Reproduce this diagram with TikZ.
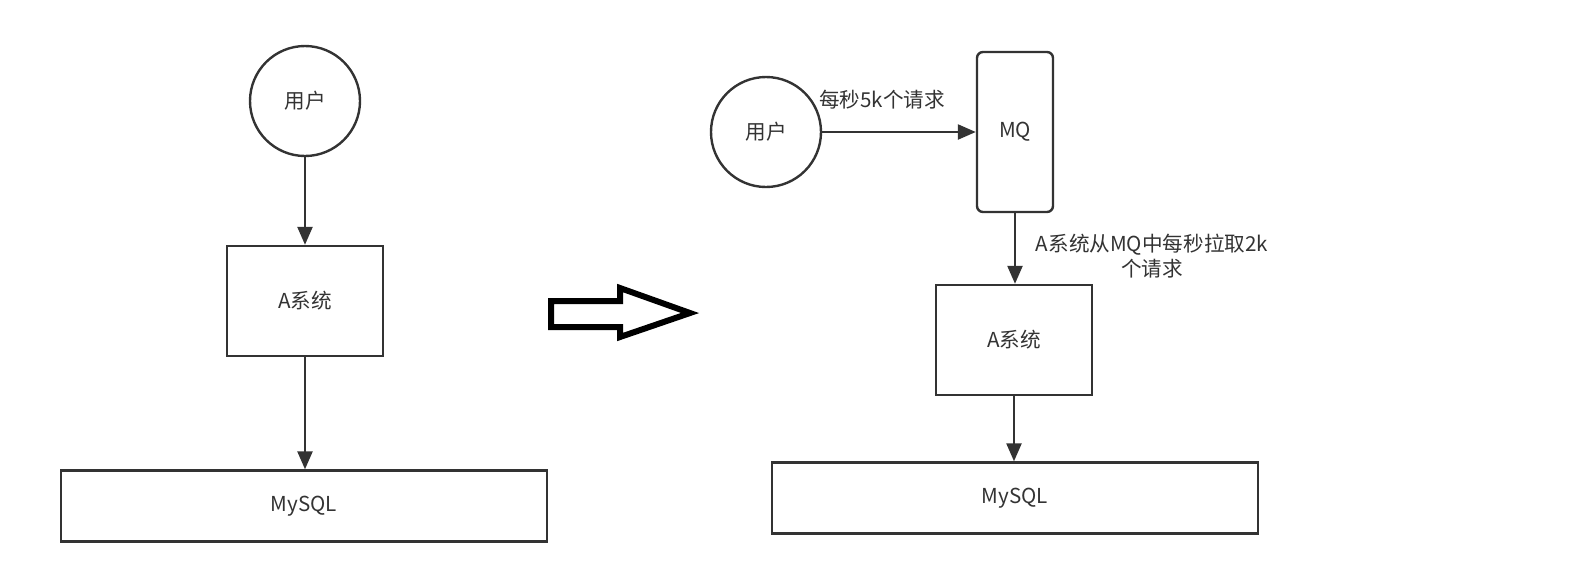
\documentclass[tikz,border=0pt]{standalone}
\usepackage{fontspec}
\setmainfont{Noto Sans CJK SC}
\usetikzlibrary{arrows.meta}
\definecolor{ink}{HTML}{333333}
\begin{document}
\begin{tikzpicture}[x=0.5pt, y=-0.5pt,
    font=\fontsize{10.3pt}{12.5pt}\selectfont, text=ink,
    every node/.style={inner sep=0pt},
    usr/.style={circle, draw=ink, line width=1.2pt, minimum size=55pt},
    sysbox/.style={rectangle, draw=ink, line width=1.2pt, minimum width=78pt, minimum height=55pt},
    dbbox/.style={rectangle, draw=ink, line width=1.2pt, minimum width=243pt, minimum height=35.5pt},
    mqbox/.style={rectangle, rounded corners=3pt, draw=ink, line width=1.2pt, minimum width=38pt, minimum height=80pt},
    flow/.style={draw=ink, line width=1.2pt, -{Triangle[length=9pt, width=7.5pt]}}]
    \useasboundingbox (0,0) rectangle (1587,575);
    % before
    \node[usr] (user1) at (305,101) {用户};
    \node[sysbox] (sysA1) at (305,301) {A系统};
    \node[dbbox] (db1) at (304,506) {MySQL};
    \draw[flow] (user1) -- (sysA1);
    \draw[flow] (sysA1) -- (db1.north -| sysA1);
    % big arrow
    \draw[line width=3pt, line join=miter] (551,301) -- (620,301) -- (620,288) -- (690,313)
        -- (620,337) -- (620,327) -- (551,327) -- cycle;
    % after
    \node[usr] (user2) at (766,132) {用户};
    \node[mqbox] (mq) at (1015,132) {MQ};
    \node[sysbox] (sysA2) at (1014,340) {A系统};
    \node[dbbox] (db2) at (1015,498) {MySQL};
    \draw[flow] (user2) -- (mq);
    \node (rate5k) at (882,100) {每秒5k个请求};
    \draw[flow] (mq) -- (sysA2.north -| mq);
    \node[align=center] (pull2k) at (1152,256) {A系统从MQ中每秒拉取2k\\个请求};
    \draw[flow] (sysA2) -- (db2.north -| sysA2);
\end{tikzpicture}
\end{document}
